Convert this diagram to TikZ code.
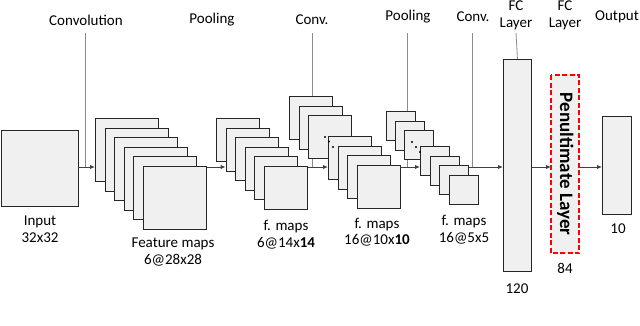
\documentclass[tikz,border=0pt]{standalone}
\usepackage{fontspec}
\setmainfont{Carlito}
\usetikzlibrary{arrows.meta}
\definecolor{boxfill}{HTML}{F0F0F0}
\definecolor{boxline}{HTML}{262626}
\definecolor{guide}{HTML}{8C8C8C}
\definecolor{arrowc}{HTML}{404040}
\definecolor{penred}{RGB}{255,0,0}
\begin{document}
\begin{tikzpicture}[x=1pt,y=-1pt,
  fmap/.style={draw=boxline,fill=boxfill,line width=0.9pt,inner sep=0pt,anchor=north west,minimum width=#1,minimum height=#1},
  bar/.style 2 args={draw=boxline,fill=boxfill,line width=0.9pt,inner sep=0pt,anchor=north west,minimum width=#1,minimum height=#2},
  lab/.style={font=\fontsize{15}{16.5}\selectfont,align=center,inner sep=0pt},
  guideline/.style={draw=guide,line width=0.8pt},
  arr/.style={draw=arrowc,line width=1pt,-{Latex[length=5pt,width=4.5pt]}},
  dotm/.style={fill=black,circle,inner sep=0pt,minimum size=2.2pt},
  penbox/.style={fill=boxfill,inner sep=0pt,anchor=north west,minimum width=28pt,minimum height=178pt},
  penborder/.style={draw=penred,line width=2pt,dash pattern=on 5pt off 2.5pt}]
\useasboundingbox (0,0) rectangle (640,325);
\coordinate (axis) at (0,167);
% labels
\node[lab] (lconv1) at (86,20) {Convolution};
\node[lab] (lpool1) at (212,20) {Pooling};
\node[lab] (lconv2) at (312,20) {Conv.};
\node[lab] (lpool2) at (408,17) {Pooling};
\node[lab] (lconv3) at (473,17) {Conv.};
\node[lab] (lfc1) at (516,15.5) {FC\\Layer};
\node[lab] (lfc2) at (565,15.5) {FC\\Layer};
\node[lab] (lout) at (617,17) {Output};
% guide lines
\coordinate (g1) at (85,33);
\coordinate (g2) at (312,33);
\coordinate (g3) at (407,33);
\coordinate (g4) at (472,33);
\coordinate (g5) at (516,33);
\draw[guideline] (g1) -- (g1 |- axis);
\draw[guideline] (g2) -- (g2 |- axis);
\draw[guideline] (g3) -- (g3 |- axis);
\draw[guideline] (g4) -- (g4 |- axis);
% input
\node[bar={77}{76}] (in) at (0.5,130) {};
\node[lab] (lin) at (40,229) {Input\\32x32};
% stack 1
\foreach \i in {0,...,5} \node[fmap=63] (s1\i) at (95+9.6*\i,118+9.6*\i) {};
\node[lab] (ls1) at (173,252) {Feature maps\\6@28x28};
% stack 2
\foreach \i in {0,...,5} \node[fmap=43] (s2\i) at (216+9.6*\i,118+9.6*\i) {};
\node[lab] (ls2) at (286,234.5) {f. maps\\6@14x\textbf{14}};
% stack 3
\foreach \i in {0,...,2} \node[fmap=43] (s3\i) at (289+9.5*\i,96+9.5*\i) {};
\foreach \i in {3,...,6} \node[fmap=43] (s3\i) at (328+9.5*\i-28.5,136+9.5*\i-28.5) {};
\node[dotm] (d31) at (325,137) {};
\node[dotm] (d32) at (329,141.5) {};
\node[dotm] (d33) at (333,147) {};
\node[lab] (ls3) at (377,232) {f. maps\\16@10x\textbf{10}};
% stack 4
\foreach \i in {0,...,2} \node[fmap=29] (s4\i) at (386+9.2*\i,111+9.5*\i) {};
\foreach \i in {3,...,6} \node[fmap=29] (s4\i) at (420+9.5*\i-28.5,146+9.5*\i-28.5) {};
\node[dotm] (d41) at (412,142) {};
\node[dotm] (d42) at (416,147) {};
\node[dotm] (d43) at (420,152) {};
\node[lab] (ls4) at (464,229.5) {f. maps\\16@5x5};
% FC layers
\node[bar={28}{212}] (fc1) at (503,59) {};
\draw[guideline] (g5) -- (fc1.north);
\node[lab] (lfc1n) at (517,289) {120};
\node[penbox] (pen) at (551,75) {};
\draw[penborder] (pen.north west) rectangle (pen.south east);
\node[rotate=-90,font=\fontsize{19}{20}\selectfont\bfseries,inner sep=0pt] (pent) at (pen.center) {Penultimate Layer};
\node[lab] (lpen) at (565,268) {84};
\node[bar={29}{98}] (out) at (602,116) {};
\node[lab] (lout10) at (618,229) {10};
% arrows
\draw[arr] (in.east |- axis) -- (s10.west |- axis);
\draw[arr] (s15.north east |- axis) -- (s21.west |- axis);
\draw[arr] (s25.east |- axis) -- (s33.west |- axis);
\draw[arr] (s36.east |- axis) -- (s43.west |- axis);
\draw[arr] (s45.east |- axis) -- (fc1.west |- axis);
\draw[arr] (fc1.east |- axis) -- (pen.west |- axis);
\draw[arr] (pen.east |- axis) -- (out.west |- axis);
\end{tikzpicture}
\end{document}
